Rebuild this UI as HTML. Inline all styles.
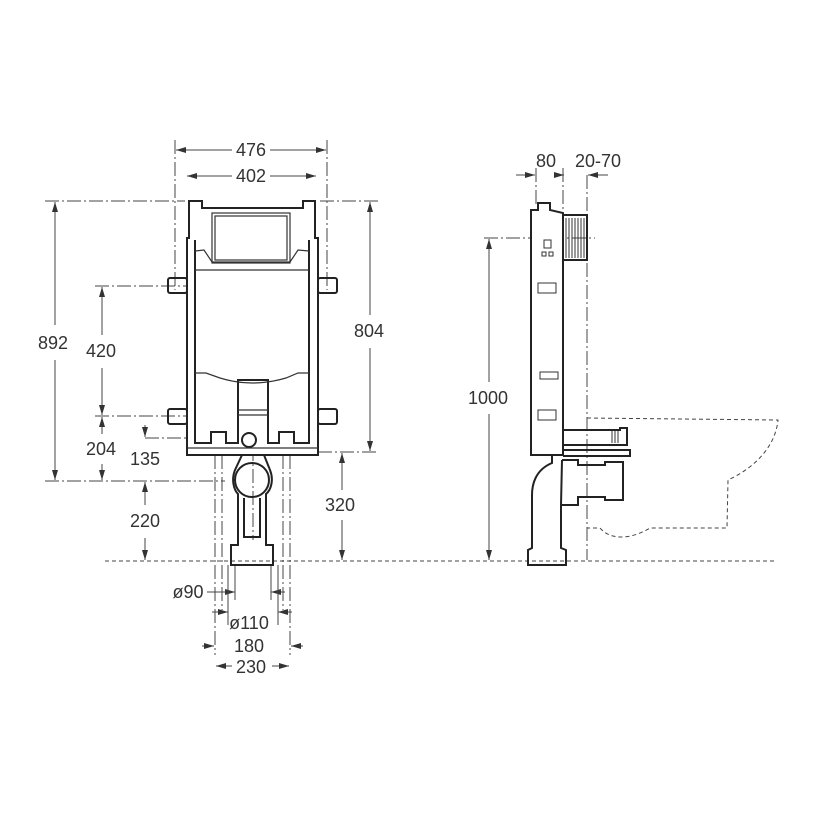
<!DOCTYPE html>
<html><head><style>
html,body{margin:0;padding:0;background:#fff;}
svg{display:block;}
text{font-family:"Liberation Sans",sans-serif;font-size:18px;fill:#333;text-anchor:middle;}
</style></head><body>
<svg width="820" height="820" viewBox="0 0 820 820" xmlns="http://www.w3.org/2000/svg">
<defs>
<marker id="a" markerWidth="10" markerHeight="6" refX="10" refY="3" orient="auto-start-reverse" markerUnits="userSpaceOnUse"><path d="M0,0 L10,3 L0,6 Z" fill="#333"/></marker>
</defs>
<g stroke="#444" stroke-width="1" fill="none">
<g stroke-dasharray="14,3,2,3">
<line x1="175" y1="140" x2="175" y2="290"/>
<line x1="327" y1="140" x2="327" y2="290"/>
<line x1="45" y1="201" x2="185" y2="201"/>
<line x1="320" y1="201" x2="378" y2="201"/>
<line x1="95" y1="286" x2="200" y2="286"/>
<line x1="95" y1="416" x2="200" y2="416"/>
<line x1="145" y1="438" x2="245" y2="438"/>
<line x1="45" y1="481" x2="225" y2="481"/>
<line x1="318" y1="452" x2="378" y2="452"/>
<line x1="215" y1="455" x2="215" y2="655"/>
<line x1="222" y1="455" x2="222" y2="610"/>
<line x1="283" y1="455" x2="283" y2="610"/>
<line x1="290" y1="455" x2="290" y2="655"/>
<line x1="253" y1="425" x2="253" y2="540"/>
<line x1="484" y1="238" x2="595" y2="238"/>
<line x1="587" y1="175" x2="587" y2="560"/>
<line x1="563" y1="168" x2="563" y2="212"/>
<line x1="536" y1="168" x2="536" y2="205"/>
</g>
<line x1="105" y1="561" x2="775" y2="561" stroke-dasharray="4,3"/>
<path d="M587,418 L778,420 C775,450 750,470 728,480 L727,528 L650,528 C630,540 610,540 600,528 L587,528" stroke-dasharray="4,3"/>
<line x1="176" y1="150" x2="232" y2="150" marker-start="url(#a)"/>
<line x1="270" y1="150" x2="326" y2="150" marker-end="url(#a)"/>
<line x1="187" y1="176" x2="232" y2="176" marker-start="url(#a)"/>
<line x1="270" y1="176" x2="316" y2="176" marker-end="url(#a)"/>
<line x1="55" y1="202" x2="55" y2="325" marker-start="url(#a)"/>
<line x1="55" y1="360" x2="55" y2="480" marker-end="url(#a)"/>
<line x1="102" y1="287" x2="102" y2="335" marker-start="url(#a)"/>
<line x1="102" y1="368" x2="102" y2="415" marker-end="url(#a)"/>
<line x1="102" y1="417" x2="102" y2="434" marker-start="url(#a)"/>
<line x1="102" y1="464" x2="102" y2="480" marker-end="url(#a)"/>
<line x1="145" y1="425" x2="145" y2="437" marker-end="url(#a)"/>
<line x1="145" y1="482" x2="145" y2="505" marker-start="url(#a)"/>
<line x1="145" y1="538" x2="145" y2="560" marker-end="url(#a)"/>
<line x1="370" y1="202" x2="370" y2="315" marker-start="url(#a)"/>
<line x1="370" y1="348" x2="370" y2="451" marker-end="url(#a)"/>
<line x1="342" y1="453" x2="342" y2="490" marker-start="url(#a)"/>
<line x1="342" y1="520" x2="342" y2="560" marker-end="url(#a)"/>
<line x1="489" y1="239" x2="489" y2="382" marker-start="url(#a)"/>
<line x1="489" y1="414" x2="489" y2="560" marker-end="url(#a)"/>
<line x1="516" y1="175" x2="535" y2="175" marker-end="url(#a)"/>
<line x1="608" y1="175" x2="588" y2="175" marker-end="url(#a)"/>
<line x1="555" y1="175" x2="564" y2="175" marker-end="url(#a)"/>
<line x1="207" y1="592" x2="235" y2="592" marker-end="url(#a)"/>
<line x1="285" y1="592" x2="271" y2="592" marker-end="url(#a)"/>
<line x1="235" y1="565" x2="235" y2="600"/><line x1="271" y1="565" x2="271" y2="600"/>
<line x1="212" y1="612" x2="228" y2="612" marker-end="url(#a)"/>
<line x1="292" y1="612" x2="278" y2="612" marker-end="url(#a)"/>
<line x1="228" y1="565" x2="228" y2="625"/><line x1="278" y1="565" x2="278" y2="625"/>
<line x1="202" y1="646" x2="214" y2="646" marker-end="url(#a)"/>
<line x1="303" y1="646" x2="291" y2="646" marker-end="url(#a)"/>
<line x1="232" y1="666" x2="216" y2="666" marker-end="url(#a)"/>
<line x1="272" y1="666" x2="289" y2="666" marker-end="url(#a)"/>
</g>
<g stroke="#222" stroke-width="2" fill="none">
<path d="M189,238 L189,201 L202,201 L202,208 L303,208 L303,201 L315,201 L315,238 L318,238 L318,455 L187,455 L187,238 Z" fill="#fff"/>
<path d="M195,240 L195,443 L211,443 L211,432 L226,432 L226,443 L238,443 L238,380 L268,380 L268,443 L279,443 L279,432 L294,432 L294,443 L309,443 L309,240"/>
<rect x="168" y="278" width="19" height="15" rx="2"/>
<rect x="318" y="278" width="19" height="15" rx="2"/>
<rect x="168" y="409" width="19" height="15" rx="2"/>
<rect x="318" y="409" width="19" height="15" rx="2"/>
<circle cx="249" cy="440" r="7"/>
<path d="M242,455 L235,470 C231,480 234,490 238,494 L238,545 L231,545 L231,565 L273,565 L273,545 L266,545 L266,494 C271,490 274,480 270,470 L264,455"/>
<circle cx="252" cy="480" r="17"/>
<path d="M244,498 L244,537 L260,537 L260,498"/>
</g>
<g stroke="#333" stroke-width="1.2" fill="none">
<rect x="212" y="213" width="78" height="50"/>
<rect x="215" y="216" width="72" height="44"/>
<line x1="195" y1="270" x2="309" y2="270"/>
<path d="M195,251 L204,250 L212,262 L290,262 L298,250 L309,251"/>
<path d="M195,373 L206,373 L220,378 Q252,388 286,378 L298,373 L309,373"/>
<line x1="238" y1="410" x2="268" y2="410"/><line x1="238" y1="415" x2="268" y2="415"/>
<line x1="187" y1="448" x2="318" y2="448"/>
</g>
<g stroke="#222" stroke-width="2" fill="none">
<path d="M531,210 L538,210 L538,203 L550,203 L550,210 L563,213 L563,455 L531,455 Z" fill="#fff"/>
<rect x="563" y="215" width="24" height="45"/>
<path d="M563,430 L620,430 L620,428 L627,428 L627,445 L563,445"/>
<path d="M563,450 L630,450 L630,456 L563,456"/>
<path d="M562,460 L578,460 L578,465 L605,465 L605,462 L623,462 L623,500 L605,500 L605,497 L578,497 L578,505 L562,505"/>
<path d="M552,456 L552,463 C535,470 532,485 532,495 L532,548 L528,550 L528,565 L566,565 L566,550 L561,548 L561,505 L562,460"/>
</g>
<g stroke="#333" stroke-width="1" fill="none">
<path d="M566,218 V258 M569,218 V258 M572,218 V258 M575,218 V258 M578,218 V258 M581,218 V258 M584,218 V258"/>
<path d="M612,431 V443 M615,431 V443 M618,431 V443"/>
<rect x="544" y="240" width="7" height="8"/><rect x="542" y="252" width="4" height="4"/><rect x="549" y="252" width="4" height="4"/>
<rect x="538" y="283" width="18" height="10"/>
<rect x="540" y="372" width="18" height="7"/>
<rect x="538" y="410" width="18" height="10"/>
</g>
<text x="251" y="156">476</text>
<text x="251" y="182">402</text>
<text x="53" y="349">892</text>
<text x="101" y="357">420</text>
<text x="101" y="455">204</text>
<text x="145" y="465">135</text>
<text x="145" y="527">220</text>
<text x="369" y="337">804</text>
<text x="340" y="511">320</text>
<text x="488" y="404">1000</text>
<text x="546" y="167">80</text>
<text x="598" y="167">20-70</text>
<text x="188" y="598">ø90</text>
<text x="249" y="629">ø110</text>
<text x="249" y="652">180</text>
<text x="251" y="673">230</text>
</svg>
</body></html>
